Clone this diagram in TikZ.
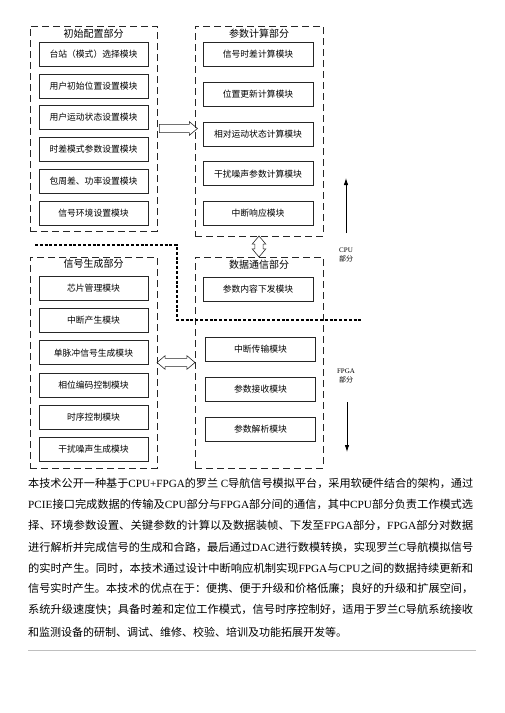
\documentclass[tikz,border=0pt]{standalone}
\usepackage{fontspec}
\setmainfont{Noto Sans CJK SC}
\newfontfamily\enfont{Liberation Serif}
\usepackage{graphicx}
\usepackage{tikz}
\usetikzlibrary{arrows.meta, positioning, shapes.arrows, calc}
\newcommand{\en}[1]{{\enfont #1}}
\newcommand{\fitline}[1]{\resizebox{445pt}{\height}{#1}}

\begin{document}
\begin{tikzpicture}[x=1pt, y=-1pt, node distance=31.8pt]
    % --- estilos ---
    \tikzstyle{module} = [
        rectangle,
        draw=black!85,
        line width=0.6pt,
        minimum width=109pt,
        minimum height=24pt,
        inner sep=0pt,
        font=\fontsize{8.8}{10}\selectfont
    ]
    \tikzstyle{group} = [rectangle, draw=black!85, line width=0.6pt, dash pattern=on 7pt off 4pt, inner sep=0pt]
    \tikzstyle{title} = [inner sep=0pt, font=\fontsize{10}{12}\selectfont]
    \tikzstyle{side} = [inner sep=0pt, align=center, font=\fontsize{7}{9.5}\selectfont]
    \tikzstyle{textline} = [anchor=west, inner sep=0pt, font=\fontsize{11}{13}\selectfont]
    \tikzstyle{hollow} = [
        single arrow,
        draw=black!85,
        line width=0.6pt,
        inner sep=3.8pt,
        minimum width=13pt,
        single arrow head extend=2.7pt,
        single arrow tip angle=80
    ]
    \tikzstyle{hollowboth} = [
        double arrow,
        draw=black!85,
        line width=0.6pt,
        inner sep=3.8pt,
        minimum width=13pt,
        double arrow head extend=2.7pt,
        double arrow tip angle=80
    ]
    \tikzstyle{arrow} = [line width=0.8pt, -{Latex[length=7pt, width=4.5pt]}]
    \tikzstyle{sep} = [line width=1.4pt, dash pattern=on 3pt off 1.8pt]

    \useasboundingbox (0,0) rectangle (504,713);

    % --- grupos ---
    \node (cfg) [group, minimum width=127pt, minimum height=205pt] at (93.5,128.5) {};
    \node (calc) [group, minimum width=128pt, minimum height=210pt] at (259,131) {};
    \node (gen) [group, minimum width=127pt, minimum height=211pt] at (93.5,362.5) {};
    \node (comm) [group, minimum width=128pt, minimum height=211pt] at (259,362.5) {};

    \node (cfgt) [title] at (93.5,34) {初始配置部分};
    \node (calct) [title] at (259,34) {参数计算部分};
    \node (gent) [title] at (93.5,264) {信号生成部分};
    \node (commt) [title] at (259,265) {数据通信部分};

    % --- initial configuration ---
    \node (cfg1) [module] at (93.5,54) {台站（模式）选择模块};
    \node (cfg2) [module, below of=cfg1] {用户初始位置设置模块};
    \node (cfg3) [module, below of=cfg2] {用户运动状态设置模块};
    \node (cfg4) [module, below of=cfg3] {时差模式参数设置模块};
    \node (cfg5) [module, below of=cfg4] {包周差、功率设置模块};
    \node (cfg6) [module, below of=cfg5] {信号环境设置模块};

    % --- parameter calculation ---
    \begin{scope}[node distance=39.9pt]
        \node (calc1) [module, minimum width=110pt] at (258,54) {信号时差计算模块};
        \node (calc2) [module, minimum width=110pt, below of=calc1] {位置更新计算模块};
        \node (calc3) [module, minimum width=110pt, below of=calc2] {相对运动状态计算模块};
        \node (calc4) [module, minimum width=110pt, below of=calc3] {干扰噪声参数计算模块};
        \node (calc5) [module, minimum width=110pt, below of=calc4] {中断响应模块};
    \end{scope}

    % --- signal generation ---
    \begin{scope}[node distance=32.1pt]
        \node (gen1) [module] at (93.5,288.5) {芯片管理模块};
        \node (gen2) [module, below of=gen1] {中断产生模块};
        \node (gen3) [module, below of=gen2] {单脉冲信号生成模块};
        \node (gen4) [module, below of=gen3] {相位编码控制模块};
        \node (gen5) [module, below of=gen4] {时序控制模块};
        \node (gen6) [module, below of=gen5] {干扰噪声生成模块};
    \end{scope}

    % --- data communication ---
    \begin{scope}[node distance=39.8pt]
        \node (comm1) [module, minimum width=110pt] at (258,289) {参数内容下发模块};
        \node (comm2) [module, minimum width=110pt] at (260.5,349.5) {中断传输模块};
        \node (comm3) [module, minimum width=110pt, below of=comm2] {参数接收模块};
        \node (comm4) [module, minimum width=110pt, below of=comm3] {参数解析模块};
    \end{scope}

    % --- CPU / FPGA ---
    \node (cpu) [side] at (346,255) {\en{CPU}\\部分};
    \node (fpga) [side] at (346,376) {\en{FPGA}\\部分};
    \coordinate (cpubot) at (346,233);
    \coordinate (cputop) at (346,178);
    \coordinate (fpgatop) at (347,402);
    \coordinate (fpgabot) at (347,452);
    \coordinate (sep1) at (35,245);
    \coordinate (sep2) at (177,245);
    \coordinate (sep3) at (177,320);
    \coordinate (sep4) at (362,320);

    % --- conexões ---
    \node (cfg2calc) [hollow, minimum height=38pt] at ($(cfg.east)!0.5!(cfg.east -| calc.west)$) {};
    \node (calc2comm) [hollowboth, minimum height=21pt, shape border rotate=90] at ($(calc.south)!0.5!(calc.south |- comm.north)$) {};
    \node (gen2comm) [hollowboth, minimum height=38pt] at ($(gen.east)!0.5!(gen.east -| comm.west)$) {};
    \draw [arrow] (cpubot) -- (cputop);
    \draw [arrow] (fpgatop) -- (fpgabot);
    \draw [sep] (sep1) -- (sep2) -- (sep3) -- (sep4);

    % --- texto ---
    \node (p1) [textline] at (28,483) {\fitline{本技术公开一种基于\en{CPU+FPGA}的罗兰 \en{C}导航信号模拟平台，采用软硬件结合的架构，通过}};
    \node (p2) [textline] at (28,504) {\fitline{\en{PCIE}接口完成数据的传输及\en{CPU}部分与\en{FPGA}部分间的通信，其中\en{CPU}部分负责工作模式选}};
    \node (p3) [textline] at (28,525) {\fitline{择、环境参数设置、关键参数的计算以及数据装帧、下发至\en{FPGA}部分，\en{FPGA}部分对数据}};
    \node (p4) [textline] at (28,547) {\fitline{进行解析并完成信号的生成和合路，最后通过\en{DAC}进行数模转换，实现罗兰\en{C}导航模拟信号}};
    \node (p5) [textline] at (28,568) {\fitline{的实时产生。同时，本技术通过设计中断响应机制实现\en{FPGA}与\en{CPU}之间的数据持续更新和}};
    \node (p6) [textline] at (28,589) {\fitline{信号实时产生。本技术的优点在于：便携、便于升级和价格低廉；良好的升级和扩展空间，}};
    \node (p7) [textline] at (28,610) {\fitline{系统升级速度快；具备时差和定位工作模式，信号时序控制好，适用于罗兰\en{C}导航系统接收}};
    \node (p8) [textline] at (28,632) {和监测设备的研制、调试、维修、校验、培训及功能拓展开发等。};

    \coordinate (rule1) at (28,650);
    \coordinate (rule2) at (476,650);
    \draw [black!25, line width=0.8pt] (rule1) -- (rule2);
\end{tikzpicture}
\end{document}
